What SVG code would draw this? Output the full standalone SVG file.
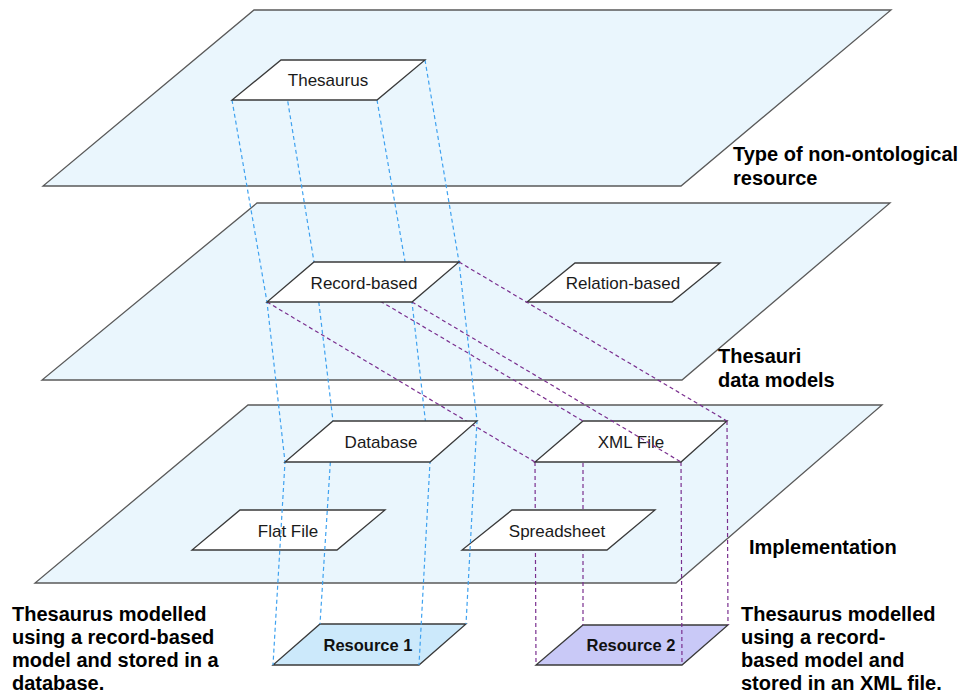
<svg xmlns="http://www.w3.org/2000/svg" width="963" height="698" viewBox="0 0 963 698">
  <style>
    .plane { fill: #eaf6fd; stroke: #5a5a5a; stroke-width: 1.3; }
    .box { fill: #ffffff; stroke: #3a3a3a; stroke-width: 1.3; }
    .res1 { fill: #cce9fb; stroke: #3a3a3a; stroke-width: 1.3; }
    .res2 { fill: #c9c9f7; stroke: #3a3a3a; stroke-width: 1.3; }
    .lbl { font-family: "Liberation Sans", Arial, sans-serif; font-size: 17px; fill: #1a1a1a; text-anchor: middle; }
    .rlbl { font-family: "Liberation Sans", Arial, sans-serif; font-size: 16.5px; font-weight: bold; fill: #111; text-anchor: middle; }
    .note { font-family: "Liberation Sans", Arial, sans-serif; font-size: 20px; font-weight: bold; fill: #000; }
    .blue { fill: none; stroke: #3fa2f0; stroke-width: 1.2; stroke-dasharray: 4 3; }
    .purple { fill: none; stroke: #7a2f8f; stroke-width: 1.2; stroke-dasharray: 4 3; }
  </style>

  <!-- layer planes -->
  <g id="plane-type">
    <polygon class="plane" points="254,10 891,10 681,186 43,186"/>
  </g>
  <g id="plane-models">
    <polygon class="plane" points="257,203 890,203 682,380 42,380"/>
  </g>
  <g id="plane-implementation">
    <polygon class="plane" points="248,405 882,405 676,583 35,583"/>
  </g>

  <!-- resource boxes -->
  <g id="resource1">
    <polygon class="res1" points="320,624 466,624 419,665 273,665"/>
    <text class="rlbl" x="368" y="651">Resource 1</text>
  </g>
  <g id="resource2">
    <polygon class="res2" points="583,625 728,625 682,665 536,665"/>
    <text class="rlbl" x="631" y="651">Resource 2</text>
  </g>

  <!-- vertical links from XML File down to Resource 2 (behind the box) -->
  <g id="links-xml-resource2">
    <path class="purple" d="M535,462 L536,665 M583,421 L583,625 M681,462 L682,665 M727,421 L728,625"/>
  </g>

  <g id="xmlfile">
    <polygon class="box" points="583,421 727,421 681,462 535,462"/>
    <text class="lbl" x="631" y="448">XML File</text>
  </g>
  <g id="flatfile">
    <polygon class="box" points="240,510 385,510 337,550 192,550"/>
    <text class="lbl" x="288" y="537">Flat File</text>
  </g>
  <g id="spreadsheet">
    <polygon class="box" points="512,510 655,510 607,550 462,550"/>
    <text class="lbl" x="557" y="537">Spreadsheet</text>
  </g>
  <g id="relationbased">
    <polygon class="box" points="575,263 720,263 672,302 527,302"/>
    <text class="lbl" x="623" y="289">Relation-based</text>
  </g>

  <!-- connectors -->
  <g id="connectors">
    <!-- Thesaurus -> Record-based -> Database -> Resource 1 -->
    <path class="blue" d="M232,100 L267,302 L285,462 L273,665"/>
    <path class="blue" d="M281,60 L314,262 L333,421 L320,624"/>
    <path class="blue" d="M377,100 L412,302 L430,462 L419,665"/>
    <path class="blue" d="M425,60 L459,262 L477,421 L466,624"/>
    <!-- Record-based -> XML File -->
    <path class="purple" d="M267,302 L535,462"/>
    <path class="purple" d="M314,262 L583,421"/>
    <path class="purple" d="M412,302 L681,462"/>
    <path class="purple" d="M459,262 L727,421"/>
  </g>

  <g id="thesaurus">
    <polygon class="box" points="281,60 425,60 377,100 232,100"/>
    <text class="lbl" x="328" y="86">Thesaurus</text>
  </g>
  <g id="recordbased">
    <polygon class="box" points="314,262 459,262 412,302 267,302"/>
    <text class="lbl" x="364" y="289">Record-based</text>
  </g>
  <g id="database">
    <polygon class="box" points="333,421 477,421 430,462 285,462"/>
    <text class="lbl" x="381" y="448">Database</text>
  </g>

  <!-- layer captions -->
  <g id="caption-type">
    <text class="note" x="733" y="161">Type of non-ontological</text>
    <text class="note" x="733" y="185">resource</text>
  </g>
  <g id="caption-models">
    <text class="note" x="718" y="363">Thesauri</text>
    <text class="note" x="718" y="387">data models</text>
  </g>
  <g id="caption-implementation">
    <text class="note" x="749" y="554">Implementation</text>
  </g>

  <!-- resource descriptions -->
  <g id="note-resource1">
    <text class="note" x="12" y="621">Thesaurus modelled</text>
    <text class="note" x="12" y="644">using a record-based</text>
    <text class="note" x="12" y="667">model and stored in a</text>
    <text class="note" x="12" y="690">database.</text>
  </g>
  <g id="note-resource2">
    <text class="note" x="741" y="621">Thesaurus modelled</text>
    <text class="note" x="741" y="644">using a record-</text>
    <text class="note" x="741" y="667">based model and</text>
    <text class="note" x="741" y="690">stored in an XML file.</text>
  </g>
</svg>
